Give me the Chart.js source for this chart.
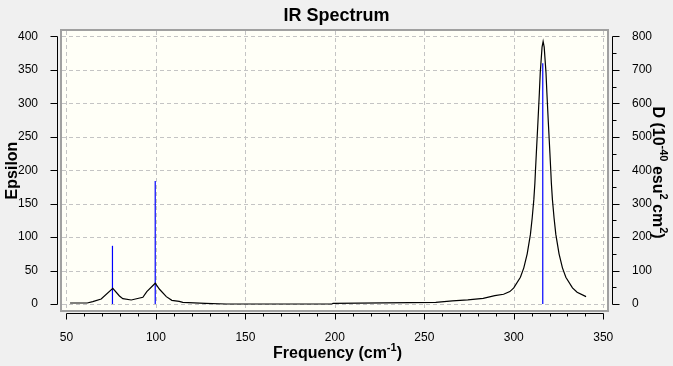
<!DOCTYPE html>
<html>
<head>
<meta charset="utf-8">
<script src="https://cdn.jsdelivr.net/npm/chart.js@4.4.1/dist/chart.umd.min.js"></script>
<style>
  html, body { margin: 0; padding: 0; background: #f0f0f0; }
  #wrap { width: 673px; height: 366px; }
</style>
</head>
<body>
<div id="wrap"><canvas id="ir"></canvas></div>
<script>
// spectrum (frequency in cm-1, epsilon)
const freq = [52, 61.6, 64.7, 69.4, 75.9, 79.6, 81.5, 86.2, 92.7, 94.9, 99.6, 102, 105.8, 108.9, 113, 115, 127.6, 139.3,
  198.4, 199, 256.4, 265.7, 274.3, 282.9, 289.4, 294.3, 297.8, 300, 303.7, 305.6, 307.5, 309.3, 310.3, 311.2, 311.8,
  312.1, 312.6, 313.5, 314.3, 314.8, 315.8, 316.4, 317.0, 318.0, 318.5, 319.3, 320.2, 320.7, 321.0, 321.6, 322.5,
  323.5, 325.3, 327.2, 329.1, 332.8, 335.4, 340.4];
const eps = [1.5, 1.5, 3.5, 7.5, 23.5, 12, 8, 6, 10, 18.5, 31, 22, 11, 5.5, 4, 2.5, 1, 0,
  0, 1, 2.5, 4.5, 6, 8.5, 12.5, 14.5, 18.5, 24, 40, 54, 75, 104, 129, 156, 181,
  198, 225, 272, 316, 346, 384, 392.5, 384, 346, 316, 272, 225, 198, 181, 156, 129,
  104, 75, 54, 40, 24, 17.5, 11];

// stick lines (epsilon scale)
const stickFreq = [75.7, 99.6, 316.2];
const stickEps = [87, 184, 360];

const xTicks = [50, 100, 150, 200, 250, 300, 350];
const yTicks = [0, 50, 100, 150, 200, 250, 300, 350, 400];
const y1Ticks = [0, 100, 200, 300, 400, 500, 600, 700, 800];

const FONT = '"Liberation Sans", Arial, sans-serif';

const datasets = [{
  data: freq.map((f, i) => ({ x: f, y: eps[i] })),
  showLine: true,
  borderColor: '#000000',
  borderWidth: 1.2,
  pointRadius: 0,
  tension: 0
}];
stickFreq.forEach((f, i) => {
  datasets.push({
    data: [{ x: f, y: 0 }, { x: f, y: stickEps[i] }],
    showLine: true,
    borderColor: '#0000ff',
    borderWidth: 1.2,
    pointRadius: 0
  });
});

// text with superscripts, parts = [[text, isSup], ...]
function richText(ctx, parts, x, y, size) {
  let w = 0;
  parts.forEach(p => {
    ctx.font = 'bold ' + (p[1] ? Math.round(size * 0.68) : size) + 'px ' + FONT;
    w += ctx.measureText(p[0]).width;
  });
  let cx = x - w / 2;
  parts.forEach(p => {
    ctx.font = 'bold ' + (p[1] ? Math.round(size * 0.68) : size) + 'px ' + FONT;
    ctx.fillText(p[0], cx, p[1] ? y - size * 0.45 : y);
    cx += ctx.measureText(p[0]).width;
  });
}

const frame = {
  id: 'frame',
  beforeDatasetsDraw(chart) {
    const { ctx, chartArea: a, scales } = chart;
    ctx.save();
    ctx.fillStyle = '#fffff7';
    ctx.fillRect(a.left, a.top, a.right - a.left, a.bottom - a.top);
    ctx.strokeStyle = '#c4c4c4';
    ctx.lineWidth = 1;
    ctx.setLineDash([4, 3]);
    xTicks.forEach(v => {
      const px = Math.round(scales.x.getPixelForValue(v)) + 0.5;
      ctx.beginPath(); ctx.moveTo(px, a.top); ctx.lineTo(px, a.bottom); ctx.stroke();
    });
    yTicks.forEach(v => {
      const py = Math.round(scales.y.getPixelForValue(v)) + 0.5;
      ctx.beginPath(); ctx.moveTo(a.left, py); ctx.lineTo(a.right, py); ctx.stroke();
    });
    ctx.restore();
  },
  afterDatasetsDraw(chart) {
    const { ctx, chartArea: a, scales } = chart;
    const xs = scales.x, ys = scales.y, y1 = scales.y1;
    ctx.save();
    // plot border
    ctx.strokeStyle = '#a0a0a0';
    ctx.lineWidth = 2;
    ctx.strokeRect(a.left - 1, a.top - 1, a.right - a.left + 2, a.bottom - a.top + 2);

    ctx.strokeStyle = '#000000';
    ctx.lineWidth = 1;
    // left axis
    const lx = a.left - 4.5;
    ctx.beginPath();
    ctx.moveTo(lx, Math.round(ys.getPixelForValue(0)) + 0.5);
    ctx.lineTo(lx, Math.round(ys.getPixelForValue(400)) + 0.5);
    yTicks.forEach(v => {
      const py = Math.round(ys.getPixelForValue(v)) + 0.5;
      ctx.moveTo(lx - 7, py); ctx.lineTo(lx, py);
    });
    ctx.stroke();
    // right axis
    const rx = a.right + 5.5;
    ctx.beginPath();
    ctx.moveTo(rx, Math.round(y1.getPixelForValue(0)) + 0.5);
    ctx.lineTo(rx, Math.round(y1.getPixelForValue(800)) + 0.5);
    for (let v = 0; v <= 800; v += 50) {
      const py = Math.round(y1.getPixelForValue(v)) + 0.5;
      ctx.moveTo(rx, py); ctx.lineTo(rx + (v % 100 === 0 ? 7 : 4), py);
    }
    ctx.stroke();
    // bottom axis
    const by = a.bottom + 3.5;
    ctx.beginPath();
    ctx.moveTo(Math.round(xs.getPixelForValue(50)) + 0.5, by);
    ctx.lineTo(Math.round(xs.getPixelForValue(350)) + 0.5, by);
    for (let v = 50; v <= 350; v += 10) {
      const px = Math.round(xs.getPixelForValue(v)) + 0.5;
      ctx.moveTo(px, by); ctx.lineTo(px, by + (v % 50 === 0 ? 6 : 3));
    }
    ctx.stroke();

    // titles
    ctx.fillStyle = '#000000';
    ctx.textBaseline = 'alphabetic';
    ctx.textAlign = 'left';
    const cx = chart.width / 2;
    richText(ctx, [['IR Spectrum', false]], cx, 21, 18);
    richText(ctx, [['Frequency (cm', false], ['-1', true], [')', false]], cx + 1, 358, 16);

    const my = (a.top + a.bottom) / 2;
    ctx.save();
    ctx.translate(17, my);
    ctx.rotate(-Math.PI / 2);
    richText(ctx, [['Epsilon', false]], 0, 0, 16);
    ctx.restore();

    ctx.save();
    ctx.translate(653, my + 2);
    ctx.rotate(Math.PI / 2);
    richText(ctx, [['D (10', false], ['-40', true], [' esu', false], ['2', true], [' cm', false], ['2', true], [')', false]], 0, 0, 16);
    ctx.restore();
    ctx.restore();
  }
};

const tickFont = { family: FONT, size: 12 };

new Chart(document.getElementById('ir'), {
  type: 'scatter',
  data: { datasets },
  options: {
    responsive: true,
    maintainAspectRatio: false,
    animation: false,
    layout: { padding: { top: 31, left: 0, right: 0, bottom: 0 } },
    plugins: { legend: { display: false }, tooltip: { enabled: false }, title: { display: false } },
    scales: {
      x: {
        type: 'linear', min: 47.5, max: 352.1,
        grid: { display: false }, border: { display: false },
        ticks: { stepSize: 50, includeBounds: false, color: '#000', font: tickFont, padding: 12, maxRotation: 0 },
        afterFit: s => { s.height = 56; }
      },
      y: {
        type: 'linear', position: 'left', min: -9, max: 408.2,
        grid: { display: false }, border: { display: false },
        ticks: { stepSize: 50, includeBounds: false, color: '#000', font: tickFont, padding: 16 },
        afterFit: s => { s.width = 62; }
      },
      y1: {
        type: 'linear', position: 'right', min: -18, max: 816.4,
        grid: { display: false }, border: { display: false },
        ticks: { stepSize: 100, includeBounds: false, color: '#000', font: tickFont, padding: 17 },
        afterFit: s => { s.width = 66; }
      }
    }
  },
  plugins: [frame]
});
</script>
</body>
</html>
